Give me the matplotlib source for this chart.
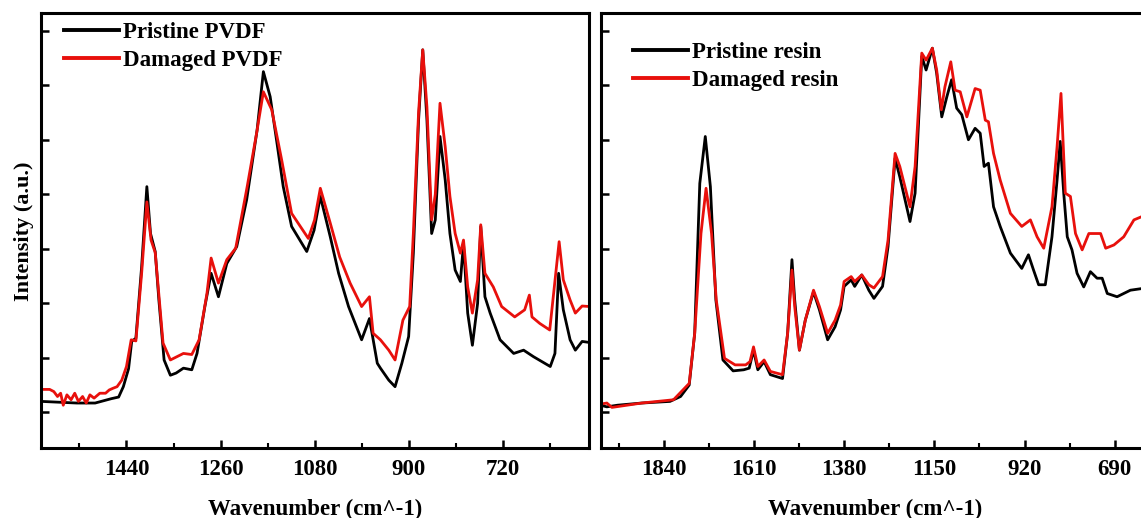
import matplotlib.pyplot as plt
from matplotlib.ticker import MultipleLocator, NullFormatter

# ---- data (intensity in arbitrary units) ----
pvdf_pristine_x = [1603, 1535, 1500, 1469, 1455, 1446, 1436, 1430, 1422, 1411,
                   1401, 1394, 1385, 1378, 1368, 1356, 1345, 1331, 1315, 1305,
                   1290, 1278, 1264, 1248, 1229, 1210, 1190, 1178, 1165, 1152,
                   1140, 1124, 1095, 1081, 1069, 1050, 1034, 1015, 990, 975,
                   960, 954, 938, 926, 913, 900, 891, 881, 873, 865,
                   856, 849, 840, 830, 821, 811, 801, 795, 787, 778,
                   768, 762, 754, 744, 725, 699, 680, 661, 629, 620,
                   613, 604, 591, 581, 568, 553]
pvdf_pristine_y = [0.20, 0.17, 0.17, 0.25, 0.28, 0.47, 0.80, 1.30, 1.36, 2.67,
                   4.14, 3.28, 2.95, 2.06, 0.96, 0.68, 0.72, 0.81, 0.78, 1.08,
                   1.94, 2.55, 2.12, 2.73, 3.04, 3.90, 5.18, 6.25, 5.79, 4.94,
                   4.14, 3.41, 2.95, 3.34, 3.96, 3.22, 2.55, 1.94, 1.33, 1.72,
                   0.90, 0.81, 0.59, 0.47, 0.90, 1.39, 2.92, 5.36, 6.65, 5.36,
                   3.28, 3.53, 5.06, 4.26, 3.28, 2.61, 2.40, 3.10, 1.82, 1.23,
                   2.00, 3.41, 2.12, 1.82, 1.33, 1.08, 1.14, 1.02, 0.84, 1.08,
                   2.55, 1.88, 1.33, 1.14, 1.30, 1.28]

pvdf_damaged_x = [1603, 1587, 1579, 1572, 1566, 1561, 1554, 1546, 1539, 1532,
                  1524, 1517, 1510, 1502, 1491, 1480, 1473, 1466, 1458, 1449,
                  1440, 1431, 1422, 1411, 1401, 1393, 1385, 1370, 1356, 1331,
                  1315, 1301, 1286, 1278, 1264, 1248, 1231, 1209, 1191, 1178,
                  1162, 1143, 1124, 1092, 1080, 1069, 1050, 1032, 1012, 990,
                  975, 968, 954, 938, 926, 911, 898, 891, 881, 873,
                  865, 856, 849, 840, 830, 821, 811, 801, 795, 787,
                  778, 768, 762, 754, 738, 722, 697, 678, 669, 664,
                  649, 630, 612, 604, 591, 581, 568, 553]
pvdf_damaged_y = [0.42, 0.42, 0.38, 0.29, 0.35, 0.13, 0.32, 0.23, 0.35, 0.20,
                  0.29, 0.17, 0.32, 0.26, 0.35, 0.35, 0.41, 0.44, 0.47, 0.59,
                  0.84, 1.33, 1.31, 2.55, 3.86, 3.16, 2.93, 1.27, 0.96, 1.08,
                  1.06, 1.33, 2.18, 2.83, 2.37, 2.80, 3.01, 4.14, 5.12, 5.88,
                  5.55, 4.63, 3.65, 3.19, 3.53, 4.11, 3.47, 2.85, 2.37, 1.94,
                  2.12, 1.45, 1.33, 1.14, 0.96, 1.69, 1.94, 3.28, 5.50, 6.65,
                  5.60, 3.53, 4.00, 5.67, 4.87, 3.96, 3.28, 2.92, 3.16, 2.30,
                  1.82, 2.43, 3.44, 2.55, 2.30, 1.94, 1.75, 1.88, 2.15, 1.75,
                  1.63, 1.51, 3.13, 2.43, 2.06, 1.82, 1.95, 1.94]

resin_pristine_x = [2001, 1985, 1958, 1896, 1824, 1797, 1775, 1761, 1748, 1734,
                    1721, 1707, 1689, 1663, 1636, 1622, 1611, 1600, 1584, 1568,
                    1537, 1524, 1513, 1506, 1494, 1479, 1458, 1443, 1422, 1403,
                    1389, 1380, 1362, 1353, 1335, 1317, 1304, 1282, 1268, 1250,
                    1238, 1212, 1199, 1182, 1171, 1155, 1144, 1131, 1118, 1106,
                    1093, 1080, 1063, 1046, 1033, 1023, 1012, 999, 982, 956,
                    927, 910, 897, 884, 867, 850, 837, 829, 820, 811,
                    799, 786, 769, 752, 735, 722, 709, 684, 650, 621, 600]
resin_pristine_y = [0.13, 0.10, 0.13, 0.17, 0.20, 0.29, 0.50, 1.45, 4.20, 5.06,
                    4.14, 2.06, 0.96, 0.76, 0.78, 0.81, 1.14, 0.78, 0.93, 0.69,
                    0.62, 1.45, 2.80, 2.06, 1.14, 1.69, 2.21, 1.88, 1.33, 1.57,
                    1.88, 2.31, 2.43, 2.31, 2.52, 2.24, 2.09, 2.31, 3.04, 4.66,
                    4.32, 3.50, 4.02, 6.53, 6.28, 6.68, 6.22, 5.42, 5.79, 6.10,
                    5.58, 5.46, 5.00, 5.21, 5.12, 4.51, 4.57, 3.77, 3.41, 2.92,
                    2.64, 2.89, 2.61, 2.34, 2.34, 3.22, 4.26, 4.97, 4.02, 3.22,
                    2.98, 2.55, 2.30, 2.58, 2.46, 2.46, 2.18, 2.12, 2.24, 2.27, 2.30]

resin_damaged_x = [2001, 1985, 1972, 1896, 1815, 1775, 1761, 1745, 1732, 1718,
                   1706, 1685, 1658, 1631, 1620, 1611, 1600, 1584, 1568, 1537,
                   1524, 1513, 1506, 1494, 1479, 1458, 1443, 1422, 1403, 1389,
                   1380, 1362, 1353, 1335, 1317, 1304, 1282, 1268, 1250, 1238,
                   1212, 1199, 1182, 1171, 1155, 1144, 1132, 1123, 1108, 1097,
                   1084, 1067, 1046, 1033, 1020, 1012, 999, 982, 956, 927,
                   905, 888, 871, 850, 837, 827, 816, 803, 790, 773,
                   756, 726, 713, 692, 667, 641, 621, 600]
resin_damaged_y = [0.15, 0.17, 0.09, 0.17, 0.23, 0.53, 1.45, 3.28, 4.11, 3.28,
                   2.06, 0.99, 0.87, 0.87, 0.93, 1.20, 0.84, 0.96, 0.75, 0.69,
                   1.45, 2.61, 1.94, 1.14, 1.69, 2.24, 1.94, 1.45, 1.69, 1.97,
                   2.40, 2.49, 2.40, 2.52, 2.34, 2.28, 2.49, 3.16, 4.75, 4.51,
                   3.77, 4.51, 6.59, 6.46, 6.68, 6.28, 5.55, 5.97, 6.43, 5.91,
                   5.88, 5.42, 5.94, 5.91, 5.36, 5.33, 4.75, 4.26, 3.65, 3.41,
                   3.53, 3.22, 3.01, 3.77, 4.87, 5.85, 4.02, 3.96, 3.28, 2.98,
                   3.28, 3.28, 3.01, 3.07, 3.22, 3.53, 3.59, 3.72]

FONT = "Liberation Serif"
RED = "#e8100c"
LW = 2.0

plt.rcParams.update({
    "font.family": FONT,
    "font.weight": "bold",
    "axes.linewidth": 2.2,
    "xtick.direction": "in",
    "ytick.direction": "in",
    "xtick.major.width": 1.8,
    "ytick.major.width": 1.8,
    "xtick.minor.width": 1.5,
    "xtick.major.size": 6,
    "ytick.major.size": 6,
    "xtick.minor.size": 3.5,
    "xtick.labelsize": 16.5,
})

fig = plt.figure(figsize=(11.41, 5.18), dpi=100)
ax1 = fig.add_axes([0.0362, 0.1346, 0.4804, 0.8397])
ax2 = fig.add_axes([0.5267, 0.1346, 0.4812, 0.8397])

LEG = dict(loc="upper left", frameon=False, handlelength=2.4, handletextpad=0.2,
           labelspacing=0.32, borderpad=0, borderaxespad=0,
           prop={"family": FONT, "weight": "bold", "size": 16.5})


def style(ax, xlim, major, minor):
    ax.set_xlim(*xlim)
    ax.set_ylim(-0.66, 7.32)
    ax.xaxis.set_major_locator(MultipleLocator(major))
    ax.xaxis.set_minor_locator(MultipleLocator(minor))
    ax.yaxis.set_major_locator(MultipleLocator(1))
    ax.yaxis.set_major_formatter(NullFormatter())
    ax.tick_params(axis="x", pad=8)
    ax.set_xlabel("Wavenumber (cm^-1)", fontsize=16.5, fontweight="bold", labelpad=13)


ax1.plot(pvdf_pristine_x, pvdf_pristine_y, color="black", lw=LW, label="Pristine PVDF")
ax1.plot(pvdf_damaged_x, pvdf_damaged_y, color=RED, lw=LW, label="Damaged PVDF")
style(ax1, (1603, 554), 180, 90)
ax1.set_ylabel("Intensity (a.u.)", fontsize=16, fontweight="bold", labelpad=2)
leg1 = ax1.legend(bbox_to_anchor=(0.041, 0.98), **LEG)

ax2.plot(resin_pristine_x, resin_pristine_y, color="black", lw=LW, label="Pristine resin")
ax2.plot(resin_damaged_x, resin_damaged_y, color=RED, lw=LW, label="Damaged resin")
style(ax2, (2000, 600), 230, 115)
leg2 = ax2.legend(bbox_to_anchor=(0.058, 0.935), **LEG)

for leg in (leg1, leg2):
    for h in leg.legend_handles:
        h.set_linewidth(2.8)

fig.savefig("out.png", dpi=100)
